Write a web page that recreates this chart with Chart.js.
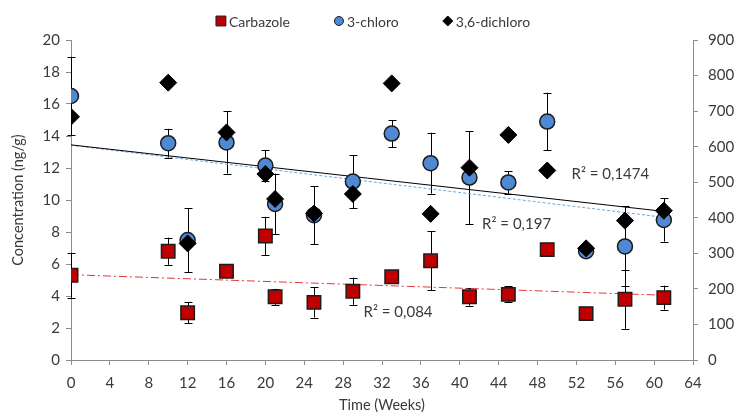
<!DOCTYPE html>
<html>
<head>
<meta charset="utf-8">
<script src="https://cdn.jsdelivr.net/npm/chart.js@4.4.1/dist/chart.umd.min.js"></script>
<style>
  html, body { margin: 0; padding: 0; background: #fff; }
</style>
</head>
<body>
<canvas class="chart" width="738" height="416"></canvas>
<script>
// sampling times (weeks)
const weeks = [0, 10, 12, 16, 20, 21, 25, 29, 33, 37, 41, 45, 49, 53, 57, 61];

// left axis, ng/g
const carbazole = [5.3, 6.8, 2.95, 5.55, 7.75, 3.95, 3.6, 4.3, 5.2, 6.2, 3.95, 4.1, 6.9, 2.9, 3.8, 3.9];
const carbazoleErr = [1.4, 0.85, 0.65, 0, 1.2, 0.5, 0.95, 0.85, 0, 1.85, 0.55, 0.5, 0, 0, 1.85, 0.75];
const chloro = [16.5, 13.55, 7.5, 13.6, 12.15, 9.75, 9.05, 11.15, 14.15, 12.3, 11.4, 11.1, 14.9, 6.8, 7.1, 8.75];
const chloroErr = [2.45, 0.9, 2.0, 1.95, 0.95, 1.9, 1.8, 1.65, 0.85, 1.9, 2.9, 0.7, 1.8, 0, 2.5, 1.35];

// right axis
const dichloro = [684, 780, 328, 640, 523, 453, 412, 467, 778, 411, 541, 633, 533, 314, 392, 420];

// linear trend lines (start / end)
const trendWeeks = [0, 61];
const carbazoleTrend = [5.33, 4.05];
const chloroTrend = [13.42, 8.92];
const dichloroTrend = [605, 418];

const xTicks = [0, 4, 8, 12, 16, 20, 24, 28, 32, 36, 40, 44, 48, 52, 56, 60, 64];
const leftTicks = [0, 2, 4, 6, 8, 10, 12, 14, 16, 18, 20];
const rightTicks = [0, 100, 200, 300, 400, 500, 600, 700, 800, 900];

const legendOrder = ["Carbazole", "3-chloro", "3,6-dichloro"];

const FONT = "Lato, 'Open Sans', sans-serif";
const TEXT = "#3a3a3a";
const AXIS = "#8c8c8c";

const pts = (xs, ys) => xs.map((x, i) => ({ x: x, y: ys[i] }));

const errorBars = {
  "Carbazole": carbazoleErr,
  "3-chloro": chloroErr,
};

const errorBarPlugin = {
  id: "errorBars",
  beforeDatasetsDraw(chart) {
    const ctx = chart.ctx;
    ctx.save();
    ctx.strokeStyle = "#000";
    ctx.lineWidth = 1;
    chart.data.datasets.forEach((ds) => {
      const errs = errorBars[ds.label];
      if (!errs) return;
      const ys = chart.scales[ds.yAxisID];
      const xs = chart.scales.x;
      ds.data.forEach((p, i) => {
        if (!errs[i]) return;
        const x = Math.round(xs.getPixelForValue(p.x)) + 0.5;
        const y1 = ys.getPixelForValue(p.y + errs[i]);
        const y2 = ys.getPixelForValue(p.y - errs[i]);
        ctx.beginPath();
        ctx.moveTo(x, y1);
        ctx.lineTo(x, y2);
        ctx.moveTo(x - 4, Math.round(y1) + 0.5);
        ctx.lineTo(x + 4, Math.round(y1) + 0.5);
        ctx.moveTo(x - 4, Math.round(y2) + 0.5);
        ctx.lineTo(x + 4, Math.round(y2) + 0.5);
        ctx.stroke();
      });
    });
    ctx.restore();
  },
};

// legend at the top and the R² labels
const labelPlugin = {
  id: "labels",
  afterDraw(chart) {
    const ctx = chart.ctx;
    const xs = chart.scales.x;
    const yl = chart.scales.y;
    ctx.save();
    ctx.font = "14px " + FONT;
    ctx.fillStyle = TEXT;
    ctx.textBaseline = "middle";

    const items = legendOrder.map((l) => chart.data.datasets.find((d) => d.label === l));
    const gap = 44;
    const widths = items.map((d) => 13 + ctx.measureText(d.label).width);
    const total = widths.reduce((a, b) => a + b, 0) + gap * (items.length - 1);
    let x = 373 - total / 2;
    const y = 21;
    items.forEach((d, i) => {
      ctx.fillStyle = d.backgroundColor;
      ctx.strokeStyle = d.borderColor;
      ctx.lineWidth = 1;
      Chart.helpers.drawPoint(ctx, {
        pointStyle: d.pointStyle,
        radius: d.pointStyle === "rect" ? 7 : d.pointStyle === "circle" ? 4.5 : 5,
        rotation: 0,
        borderWidth: 1,
      }, x + 5, y);
      ctx.fillStyle = TEXT;
      ctx.textAlign = "left";
      ctx.fillText(d.label, x + 13, y + 1);
      x += widths[i] + gap;
    });

    ctx.font = "15px " + FONT;
    ctx.textAlign = "left";
    ctx.fillStyle = TEXT;
    const r2 = [
      ["R² = 0,1474", 51.5, 11.6],
      ["R² = 0,197", 42.3, 8.5],
      ["R² = 0,084", 30.1, 3.0],
    ];
    r2.forEach(([t, wx, wy]) => {
      ctx.fillText(t, xs.getPixelForValue(wx), yl.getPixelForValue(wy));
    });
    ctx.restore();
  },
};

const ctx = document.querySelector(".chart");

new Chart(ctx, {
  type: "scatter",
  data: {
    datasets: [
      {
        label: "3,6-dichloro",
        data: pts(weeks, dichloro),
        yAxisID: "y2",
        pointStyle: "rectRot",
        pointRadius: 8.5,
        backgroundColor: "#000000",
        borderColor: "#000000",
        borderWidth: 1,
        order: 0,
      },
      {
        label: "3-chloro",
        data: pts(weeks, chloro),
        yAxisID: "y",
        pointStyle: "circle",
        pointRadius: 7.5,
        backgroundColor: "#4f88d3",
        borderColor: "#1c1c1c",
        borderWidth: 1.5,
        order: 1,
      },
      {
        label: "Carbazole",
        data: pts(weeks, carbazole),
        yAxisID: "y",
        pointStyle: "rect",
        pointRadius: 9.5,
        backgroundColor: "#c00000",
        borderColor: "#1c1c1c",
        borderWidth: 1.5,
        order: 2,
      },
      {
        label: "trend 3,6-dichloro",
        data: pts(trendWeeks, dichloroTrend),
        yAxisID: "y2",
        showLine: true,
        pointRadius: 0,
        borderColor: "#000000",
        borderWidth: 1,
        order: 3,
      },
      {
        label: "trend 3-chloro",
        data: pts(trendWeeks, chloroTrend),
        yAxisID: "y",
        showLine: true,
        pointRadius: 0,
        borderColor: "#6fa6e0",
        borderWidth: 1,
        borderDash: [3, 2],
        order: 4,
      },
      {
        label: "trend Carbazole",
        data: pts(trendWeeks, carbazoleTrend),
        yAxisID: "y",
        showLine: true,
        pointRadius: 0,
        borderColor: "#e0393b",
        borderWidth: 1,
        borderDash: [8, 3, 2, 3],
        order: 5,
      },
    ],
  },
  plugins: [errorBarPlugin, labelPlugin],
  options: {
    responsive: false,
    animation: false,
    layout: { padding: { top: 40, left: 0, right: 0, bottom: 0 } },
    scales: {
      x: {
        type: "linear",
        min: 0,
        max: 64,
        afterFit: (s) => { s.height = 56; },
        afterBuildTicks: (s) => { s.ticks = xTicks.map((v) => ({ value: v })); },
        ticks: { color: TEXT, font: { family: FONT, size: 15 }, padding: 9, maxRotation: 0 },
        grid: { drawOnChartArea: false, tickLength: 5, color: AXIS },
        border: { color: AXIS },
        title: {
          display: true,
          text: "Time (Weeks)",
          color: TEXT,
          font: { family: FONT, size: 14.5 },
          padding: { top: 0, bottom: 2 },
        },
      },
      y: {
        position: "left",
        min: 0,
        max: 20,
        afterFit: (s) => { s.width = 71; },
        afterBuildTicks: (s) => { s.ticks = leftTicks.map((v) => ({ value: v })); },
        ticks: { color: TEXT, font: { family: FONT, size: 15 }, padding: 6 },
        grid: { drawOnChartArea: false, tickLength: 5, color: AXIS },
        border: { color: AXIS },
        title: {
          display: true,
          text: "Concentration (ng/g)",
          color: TEXT,
          font: { family: FONT, size: 14.5 },
          padding: { top: 10, bottom: 0 },
        },
      },
      y2: {
        position: "right",
        min: 0,
        max: 900,
        afterFit: (s) => { s.width = 45; },
        afterBuildTicks: (s) => { s.ticks = rightTicks.map((v) => ({ value: v })); },
        ticks: { color: TEXT, font: { family: FONT, size: 15 }, padding: 10 },
        grid: { drawOnChartArea: false, tickLength: 5, color: AXIS },
        border: { color: AXIS },
      },
    },
    plugins: {
      legend: { display: false },
      tooltip: { enabled: false },
    },
  },
});
</script>
</body>
</html>
